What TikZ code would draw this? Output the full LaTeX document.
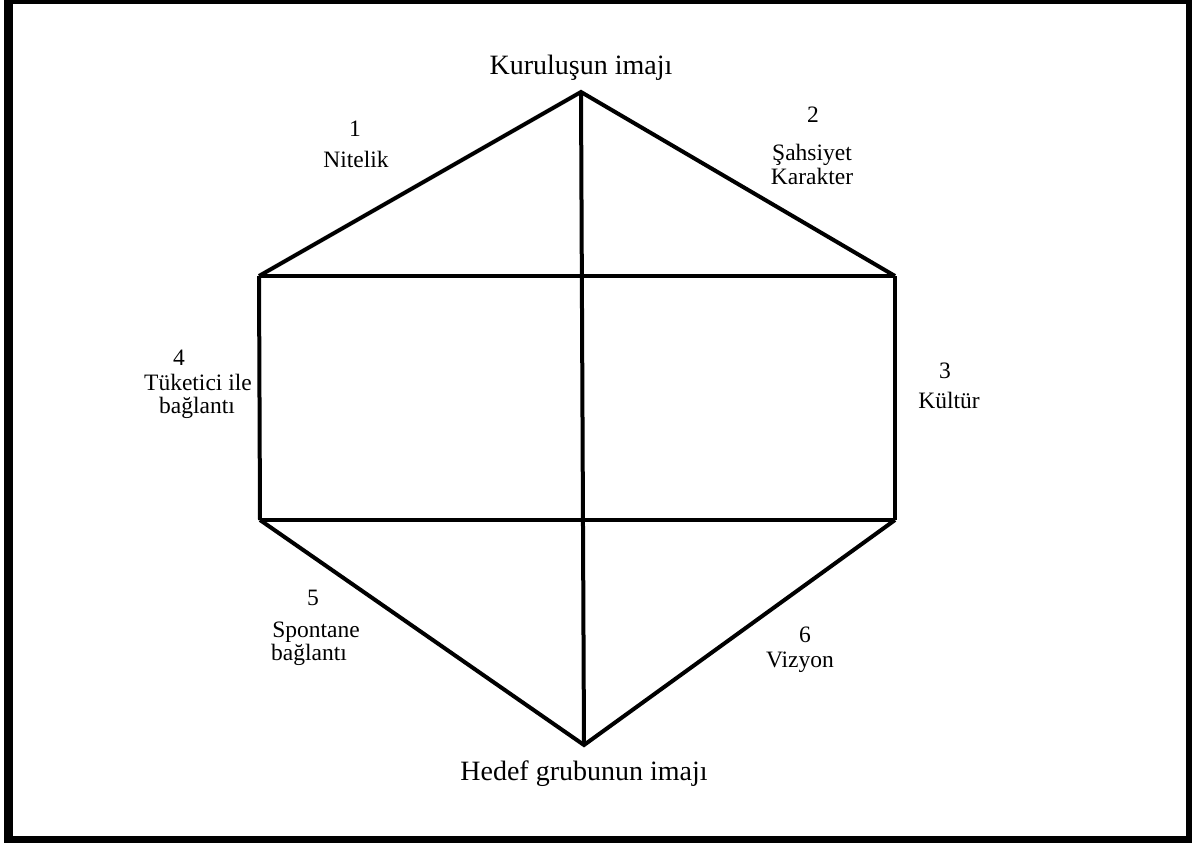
\documentclass[tikz,border=0pt]{standalone}
\usepackage{fontspec}
\setmainfont{Liberation Serif}
\begin{document}
\begin{tikzpicture}[x=1pt,y=-1pt,
  edge/.style={line width=4pt,line join=miter,line cap=butt},
  big/.style={font=\fontsize{28}{32}\selectfont,anchor=base,inner sep=0pt},
  small/.style={font=\fontsize{23.5}{26}\selectfont,anchor=base,inner sep=0pt}]
\useasboundingbox (0,0) rectangle (1192,843);
\fill[white] (0,0) rectangle (1192,843);
\draw[line width=9pt] (8.5,0) rectangle (1190.5,840.5);
% vertices
\coordinate (T) at (581,92);
\coordinate (UL) at (259,276);
\coordinate (UR) at (895,276);
\coordinate (LL) at (260,520);
\coordinate (LR) at (895,520);
\coordinate (B) at (584,745);
\draw[edge] (UL) -- (T) -- (UR);
\draw[edge] (UL) -- (LL);
\draw[edge] (UR) -- (LR);
\draw[edge] (LL) -- (B) -- (LR);
\draw[edge] (UL) -- (UR);
\draw[edge] (LL) -- (LR);
\draw[edge] (T) -- (B);
% titles
\node[big] (top) at (581,75) {Kuruluşun imajı};
\node[big] (bot) at (584,780) {Hedef grubunun imajı};
% labels
\node[small] (n1) at (355,136) {1};
\node[small] (l1) at (356,167) {Nitelik};
\node[small] (n2) at (813,122) {2};
\node[small] (l2a) at (812,160) {Şahsiyet};
\node[small] (l2b) at (812,184) {Karakter};
\node[small] (n3) at (945,378) {3};
\node[small] (l3) at (949,408) {Kültür};
\node[small] (n4) at (179,365) {4};
\node[small] (l4a) at (198,390) {Tüketici ile};
\node[small] (l4b) at (197,413) {bağlantı};
\node[small] (n5) at (313,605) {5};
\node[small] (l5a) at (316,637) {Spontane};
\node[small] (l5b) at (309,660) {bağlantı};
\node[small] (n6) at (805,642) {6};
\node[small] (l6) at (800,667) {Vizyon};
\end{tikzpicture}
\end{document}
